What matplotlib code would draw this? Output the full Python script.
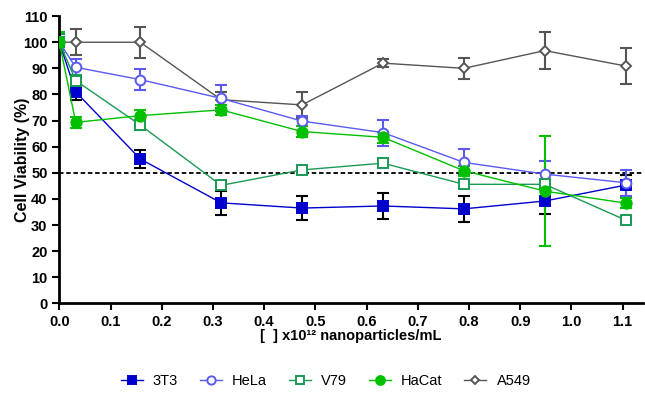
import matplotlib.pyplot as plt
import numpy as np

plt.rcParams['font.family'] = ['Liberation Sans', 'DejaVu Sans']

# concentration, x10^12 nanoparticles/mL
conc = [0.0, 0.032, 0.158, 0.316, 0.474, 0.632, 0.79, 0.948, 1.106]

v_3t3 = [100, 81, 55.3, 38.5, 36.5, 37.3, 36.2, 39.2, 45.3]
e_3t3 = [3, 3, 3.5, 4.5, 4.5, 5, 5, 5, 4]
v_hela = [100, 90.4, 85.7, 78.5, 69.8, 65.4, 54, 49.5, 46.2]
e_hela = [3, 3, 4, 5, 2, 5, 5, 5, 5]
v_v79 = [100, 85.3, 68.3, 45.2, 51.1, 53.7, 45.6, 45.6, 31.9]
e_v79 = [3, 2, 2, 1.5, 1.5, 1.5, 1.5, 1.5, 1]
v_hacat = [100, 69.3, 71.9, 74.1, 65.8, 63.6, 50.8, 43, 38.4]
e_hacat = [4, 2, 2, 2, 2, 2, 2, 21, 2]
v_a549 = [100, 100, 100, 78, 76, 92, 90, 96.8, 90.9]
e_a549 = [0, 5, 6, 3, 5, 1.5, 4, 7, 7]

fig = plt.figure(figsize=(6.45, 3.93), dpi=100)
ax = fig.add_axes([0.092, 0.228, 0.905, 0.731])

series = [
    ('A549', v_a549, e_a549, '#555555', 'D', 'none', '#555555', 5),
    ('3T3', v_3t3, e_3t3, '#0000cc', 's', '#0000cc', 'black', 6.5),
    ('HeLa', v_hela, e_hela, '#5a5af0', 'o', 'none', '#5a5af0', 7),
    ('V79', v_v79, e_v79, '#1a9a55', 's', 'none', '#1a9a55', 7),
    ('HaCat', v_hacat, e_hacat, '#00c000', 'o', '#00c000', '#00c000', 7.5),
]
handles = {}
for name, y, e, c, m, fc, ec, ms in series:
    ax.errorbar(conc, y, yerr=e, fmt='none', ecolor=ec, elinewidth=1.5,
                capsize=4, capthick=1.5, zorder=2)
    h, = ax.plot(conc, y, color=c, marker=m, markerfacecolor=fc if fc != 'none' else 'white',
                 markeredgecolor=c, markeredgewidth=1.4, markersize=ms, lw=1, label=name, zorder=3)
    handles[name] = h

ax.axhline(50, color='black', ls=(0, (2.5, 1.5)), lw=1.3, zorder=1)

ax.set_xlim(0, 1.14)
ax.set_ylim(0, 110)
ax.set_xticks(np.arange(0, 1.11, 0.1))
ax.set_xticklabels(['%.1f' % t for t in np.arange(0, 1.11, 0.1)])
ax.set_yticks(range(0, 111, 10))
for s in ['top', 'right']:
    ax.spines[s].set_visible(False)
for s in ['left', 'bottom']:
    ax.spines[s].set_linewidth(2)
ax.tick_params(width=1.5, length=5, labelsize=10.5)
for lbl in ax.get_xticklabels() + ax.get_yticklabels():
    lbl.set_fontweight('bold')
ax.set_ylabel('Cell Viability (%)', fontsize=11.5, fontweight='bold')
ax.yaxis.set_label_coords(-0.05, 0.5)
ax.set_xlabel('[  ] x10¹² nanoparticles/mL', fontsize=10.5, fontweight='bold', labelpad=0)

order = ['3T3', 'HeLa', 'V79', 'HaCat', 'A549']
fig.legend([handles[n] for n in order], order, loc='center', ncol=5,
           bbox_to_anchor=(0.505, 0.03), frameon=False, fontsize=10.5,
           handlelength=1.5, handletextpad=0.7, columnspacing=1.5, markerscale=0.85)

fig.savefig('out.png', dpi=100)
